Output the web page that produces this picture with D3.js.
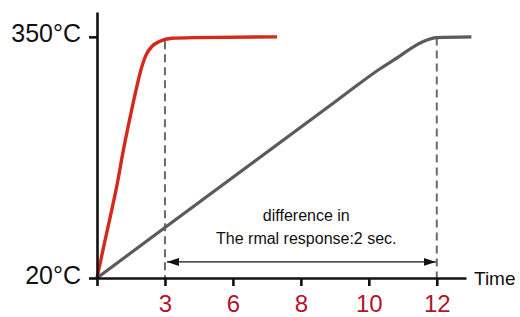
<!DOCTYPE html>
<html>
<head>
<meta charset="utf-8">
<script src="https://cdn.jsdelivr.net/npm/d3@7.9.0/dist/d3.min.js"></script>
<style>
  body { margin: 0; background: #fff; }
  svg { display: block; font-family: "Liberation Sans", Arial, sans-serif; }
</style>
</head>
<body>
<svg id="chart" width="520" height="317"></svg>
<script>
// tick positions on the time axis (evenly spaced) and their labels
const tickPos = [1, 2, 3, 4, 5];
const tickLabels = ["3", "6", "8", "10", "12"];
const yTicks = [20, 350];

// fast sensor (red): [position, °C]
const redPos  = [0, 0.103, 0.191, 0.294, 0.382, 0.485, 0.574, 0.647, 0.721, 0.809, 0.926, 1.10, 1.44, 2.65];
const redTemp = [20, 65, 102, 147, 192, 239, 277, 305, 325, 337, 344, 348, 349, 350];

// slow sensor (gray)
const grayPos  = [0, 0.956, 3.54, 4.16, 4.46, 4.65, 4.81, 5.0, 5.51];
const grayTemp = [20, 86, 263.6, 306, 324, 336, 344, 349, 350];

const svg = d3.select("#chart");

const x = d3.scaleLinear().domain([0, 5.43]).range([97, 466]);
const y = d3.scaleLinear().domain([20, 384]).range([278, 12]);

const line = d3.line()
    .x(d => x(d[0]))
    .y(d => y(d[1]))
    .curve(d3.curveMonotoneX);

// dashed guides
[[1, 344], [5, 349]].forEach(([p, t]) => {
    svg.append("line")
        .attr("x1", x(p)).attr("x2", x(p))
        .attr("y1", y(t)).attr("y2", y(20))
        .attr("stroke", "#6a6a6a")
        .attr("stroke-width", 2)
        .attr("stroke-dasharray", "8,5");
});

// curves
svg.append("path")
    .datum(d3.zip(grayPos, grayTemp))
    .attr("d", line)
    .attr("fill", "none")
    .attr("stroke", "#5b5b5b")
    .attr("stroke-width", 3.2);

svg.append("path")
    .datum(d3.zip(redPos, redTemp))
    .attr("d", line)
    .attr("fill", "none")
    .attr("stroke", "#d42a1b")
    .attr("stroke-width", 3.4);

// axes
const xAxis = svg.append("g")
    .attr("transform", `translate(0,${y(20)})`)
    .call(d3.axisBottom(x)
        .tickValues([0].concat(tickPos))
        .tickFormat((d, i) => i === 0 ? "" : tickLabels[i - 1])
        .tickSize(8)
        .tickSizeOuter(0)
        .tickPadding(9));

const yAxis = svg.append("g")
    .attr("transform", `translate(${x(0)},0)`)
    .call(d3.axisLeft(y)
        .tickValues(yTicks)
        .tickFormat(d => d + "°C")
        .tickSize(8)
        .tickSizeOuter(0)
        .tickPadding(8));

[xAxis, yAxis].forEach(g => {
    g.select(".domain").attr("stroke", "#111").attr("stroke-width", 2.6);
    g.selectAll(".tick line").attr("stroke", "#111").attr("stroke-width", 2.6);
});
xAxis.selectAll(".tick text")
    .attr("fill", "#b3142c")
    .attr("font-size", 24)
    .attr("font-family", "Liberation Sans, Arial, sans-serif");
yAxis.selectAll(".tick text")
    .attr("fill", "#111")
    .attr("font-size", 25)
    .attr("dy", "0.2em")
    .attr("font-family", "Liberation Sans, Arial, sans-serif");

svg.append("text")
    .attr("x", 474)
    .attr("y", y(20) + 7)
    .attr("font-size", 19)
    .attr("fill", "#111")
    .text("Time");

// double arrow
const defs = svg.append("defs");
defs.append("marker")
    .attr("id", "ah")
    .attr("viewBox", "0 0 12 8")
    .attr("refX", 12).attr("refY", 4)
    .attr("markerWidth", 12).attr("markerHeight", 8)
    .attr("markerUnits", "userSpaceOnUse")
    .attr("orient", "auto-start-reverse")
    .append("path")
    .attr("d", "M0,0 L12,4 L0,8 Z")
    .attr("fill", "#111");

const arrowT = 42;
svg.append("line")
    .attr("x1", x(1) + 2).attr("x2", x(5) - 1)
    .attr("y1", y(arrowT)).attr("y2", y(arrowT))
    .attr("stroke", "#111")
    .attr("stroke-width", 1.3)
    .attr("marker-start", "url(#ah)")
    .attr("marker-end", "url(#ah)");

const note = svg.append("text")
    .attr("text-anchor", "middle")
    .attr("font-size", 16)
    .attr("fill", "#111");
note.append("tspan").attr("x", x(3.08)).attr("y", 221).text("difference in");
note.append("tspan").attr("x", x(3.08)).attr("y", 244).text("The rmal response:2 sec.");
</script>
</body>
</html>
